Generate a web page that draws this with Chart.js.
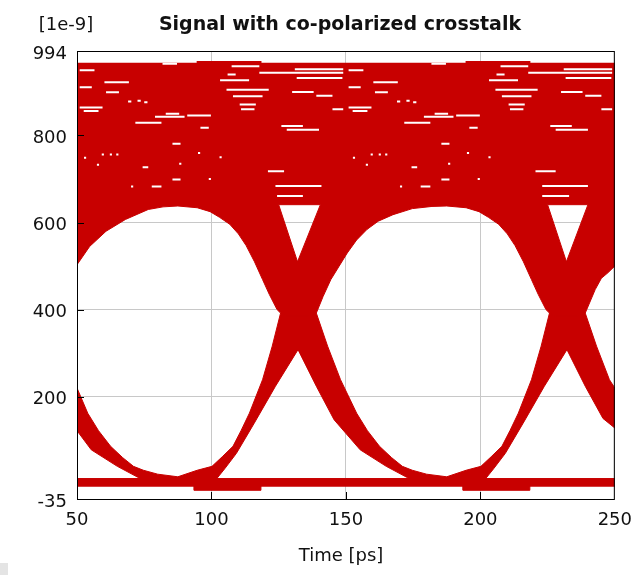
<!DOCTYPE html>
<html>
<head>
<meta charset="utf-8">
<title>Signal with co-polarized crosstalk</title>
<script src="https://cdn.jsdelivr.net/npm/chart.js@4.4.1/dist/chart.umd.min.js"></script>
<style>
  html, body { margin: 0; padding: 0; background: #fff; }
  #eye { display: block; }
</style>
</head>
<body>
<canvas id="eye" width="643" height="575"></canvas>
<script>
// eye diagram, time in ps, amplitude in units of 1e-9
const xTicks = [50, 100, 150, 200, 250];
const yTicks = [-35, 200, 400, 600, 800, 994];

// "ones" band + upper arms of the X; the notches above each crossing are holes (reached by a slit)
const upperMass = [
  [50, 967], [50, 503], [54.7, 545], [60.8, 580], [68, 607], [76.5, 630], [82, 636], [87.5, 638],
  [94.7, 634], [99.5, 625], [103, 612], [106.8, 596], [110, 574], [112.9, 547], [116, 510],
  [119, 469], [121.5, 435], [124.4, 400], [125.7, 392], [128, 385], [132, 385],
  [132, 510], [125, 641], [140.5, 641], [132, 510],
  [132, 385], [136, 385], [139, 392], [141.5, 430], [144.4, 469], [147.5, 500], [150.5, 530],
  [154, 560], [157.8, 584], [162, 603], [167.5, 618], [174.7, 632], [182, 637], [187.5, 638],
  [194.7, 634], [199.5, 625], [203, 612], [206.8, 596], [210, 574], [212.9, 547], [216, 510],
  [219, 469], [221.5, 435], [224.4, 400], [225.7, 392], [228, 385], [232, 385],
  [232, 510], [225, 641], [240, 641], [232, 510],
  [232, 385], [236, 385], [239, 392], [242.7, 446], [245, 472], [247.5, 485], [250, 500],
  [250, 967]
];

// lower arms of the X, "zeros" level and the flat bottom trace; triangle under 132 ps is a hole
const lowerMass = [
  [250, -7], [250, 12], [202, 12], [205, 35], [209.3, 70], [215.9, 139], [223.8, 224], [232.2, 308],
  [239, 224], [245.6, 150], [250, 128], [250, 220],
  [248, 239], [243.2, 316], [239, 392], [236, 400], [228, 400], [225.7, 392], [222.6, 316],
  [219, 239], [214.1, 162], [211, 122], [208, 86], [204, 62], [200.2, 40], [194.7, 31],
  [187.5, 16], [180, 22], [174.7, 31], [171, 40], [167, 60], [162.5, 86], [158, 122], [154, 162],
  [148, 239], [143.2, 316], [139, 392], [136, 400], [132.2, 400],
  [132.2, 308], [139, 224], [145.6, 147], [155.3, 78], [165, 40], [173.5, 12],
  [102, 12], [105, 35], [109.3, 70], [115.9, 139], [123.8, 224], [132.2, 308],
  [132.2, 400], [128, 400], [125.7, 392], [122.6, 316], [119, 239], [114.1, 162], [111, 122],
  [108, 86], [104, 62], [100.2, 40], [94.7, 31], [87.5, 16], [80, 22], [74.7, 31], [71, 40],
  [67, 60], [62.5, 86], [58, 122], [54, 162], [50, 220],
  [50, 122], [55.3, 78], [65, 40], [73.5, 12], [50, 12], [50, -7]
];

// thicker parts under the bottom trace
const stubLeft = [[93.6, -2], [93.6, -15], [118.4, -15], [118.4, -2]];
const stubRight = [[193.6, -2], [193.6, -15], [218.4, -15], [218.4, -2]];

// small raised parts of the top edge: [t start, t end, level]
const topRidges = [[94.5, 118.6, 969], [194.5, 218.6, 969]];

// white gaps between traces inside the upper band: [t start, t end, level]
const whiteDashes = [
  [81.8, 87.2, 965], [181.8, 187.2, 965],
  [51, 56.5, 950], [60.2, 69.3, 922], [51, 55.5, 911], [60.8, 65.6, 899], [51, 59.5, 864],
  [52.5, 58, 856], [69, 70.2, 878], [72.5, 73.7, 880], [75, 76.2, 876], [71.7, 81.4, 829],
  [79, 90, 843], [83, 88, 850], [91, 99.8, 846], [95.9, 99, 818], [85.5, 88.5, 781],
  [74.4, 76.5, 727], [85.5, 88.5, 699], [77.8, 81.4, 683],
  [107.5, 117.8, 959], [117.8, 149, 944], [106, 109, 940], [103.2, 114, 927], [105.6, 121.3, 905],
  [108, 119, 890], [110.5, 116.5, 871], [111, 116, 860], [121, 127, 718], [123.8, 140.9, 684],
  [124.4, 134, 661], [131, 149, 952], [131.7, 148.7, 932], [130, 138, 900], [139, 145, 891],
  [145, 149, 860], [128, 140, 813], [126, 134, 822],
  [52.6, 53.4, 749], [57.4, 58.2, 733], [59.2, 60, 756], [62.2, 63, 756], [64.6, 65.4, 756],
  [70.1, 70.9, 683], [95, 95.8, 760], [99, 99.8, 700], [103, 103.8, 750], [88, 88.8, 735],
  [151, 156.5, 950], [160.2, 169.3, 922], [151, 155.5, 911], [160.8, 165.6, 899], [151, 159.5, 864],
  [152.5, 158, 856], [169, 170.2, 878], [172.5, 173.7, 880], [175, 176.2, 876], [171.7, 181.4, 829],
  [179, 190, 843], [183, 188, 850], [191, 199.8, 846], [195.9, 199, 818], [185.5, 188.5, 781],
  [174.4, 176.5, 727], [185.5, 188.5, 699], [177.8, 181.4, 683],
  [207.5, 217.8, 959], [217.8, 249, 944], [206, 209, 940], [203.2, 214, 927], [205.6, 221.3, 905],
  [208, 219, 890], [210.5, 216.5, 871], [211, 216, 860], [220.5, 228, 718], [223, 240, 684],
  [223, 233, 661], [231, 249, 952], [231.7, 248.7, 932], [230, 238, 900], [239, 245, 891],
  [245, 249, 860], [228, 240, 813], [226, 234, 822],
  [152.6, 153.4, 749], [157.4, 158.2, 733], [159.2, 160, 756], [162.2, 163, 756], [164.6, 165.4, 756],
  [170.1, 170.9, 683], [195, 195.8, 760], [199, 199.8, 700], [203, 203.8, 750], [188, 188.8, 735]
];

const RED = '#c80000';
const FONT = 'DejaVu Sans';

const asPoints = list => list.map(([x, y]) => ({x, y}));
const asSegments = list => list.flatMap(([t0, t1, v]) => [{x: t0, y: v}, {x: t1, y: v}, {x: t1, y: null}]);

const shape = list => ({
  data: asPoints(list),
  fill: 'shape',
  backgroundColor: RED,
  borderColor: RED,
  borderWidth: 1,
  pointRadius: 0
});

const decor = {
  id: 'decor',
  beforeDraw(chart) {
    const c = chart.ctx;
    c.save();
    c.fillStyle = '#fff';
    c.fillRect(0, 0, chart.width, chart.height);
    c.fillStyle = '#e4e4e4';
    c.fillRect(0, 563, 8, 12);
    c.restore();
  },
  afterDatasetsDraw(chart) {
    const c = chart.ctx;
    const a = chart.chartArea;
    const {x, y} = chart.scales;
    c.save();
    c.strokeStyle = '#000';
    c.lineWidth = 1;
    c.beginPath();
    xTicks.slice(1, -1).forEach(t => {
      const px = Math.round(x.getPixelForValue(t)) + 0.5;
      c.moveTo(px, a.bottom);
      c.lineTo(px, a.bottom - 7);
    });
    yTicks.slice(1, -1).forEach(v => {
      const py = Math.round(y.getPixelForValue(v)) + 0.5;
      c.moveTo(a.left, py);
      c.lineTo(a.left + 7, py);
    });
    c.stroke();
    c.strokeRect(a.left + 0.5, a.top + 0.5, a.right - a.left - 1, a.bottom - a.top);
    c.restore();
  },
  afterDraw(chart) {
    const c = chart.ctx;
    c.save();
    c.fillStyle = '#111';
    c.textAlign = 'center';
    c.textBaseline = 'middle';
    c.font = '18px "' + FONT + '"';
    c.fillText('[1e-9]', 66, 25);
    c.fillText('Time [ps]', 341, 556);
    c.font = 'bold 19px "' + FONT + '"';
    c.fillText('Signal with co-polarized crosstalk', 340, 25);
    c.restore();
  }
};

new Chart(document.getElementById('eye'), {
  type: 'line',
  data: {
    datasets: [
      {data: asSegments(whiteDashes), borderColor: '#fff', borderWidth: 2, borderCapStyle: 'butt', pointRadius: 0, fill: false},
      {data: asSegments(topRidges), borderColor: RED, borderWidth: 2, borderCapStyle: 'butt', pointRadius: 0, fill: false},
      shape(upperMass),
      shape(lowerMass),
      shape(stubLeft),
      shape(stubRight)
    ]
  },
  options: {
    responsive: false,
    devicePixelRatio: 1,
    animation: false,
    events: [],
    layout: {padding: {top: 51, right: 17, bottom: 0, left: 0}},
    plugins: {legend: {display: false}, tooltip: {enabled: false}, title: {display: false}},
    scales: {
      x: {
        type: 'linear',
        min: 50,
        max: 250,
        afterBuildTicks: s => { s.ticks = xTicks.map(value => ({value})); },
        afterFit: s => { s.height = 76; },
        grid: {color: '#c8c8c8', lineWidth: 1, drawTicks: false},
        border: {display: false},
        ticks: {font: {family: FONT, size: 18}, color: '#111', padding: 11, maxRotation: 0}
      },
      y: {
        type: 'linear',
        min: -35,
        max: 994,
        afterBuildTicks: s => { s.ticks = yTicks.map(value => ({value})); },
        afterFit: s => { s.width = 77; },
        grid: {color: '#c8c8c8', lineWidth: 1, drawTicks: false},
        border: {display: false},
        ticks: {font: {family: FONT, size: 18}, color: '#111', padding: 10, labelOffset: 3}
      }
    }
  },
  plugins: [decor]
});
</script>
</body>
</html>
